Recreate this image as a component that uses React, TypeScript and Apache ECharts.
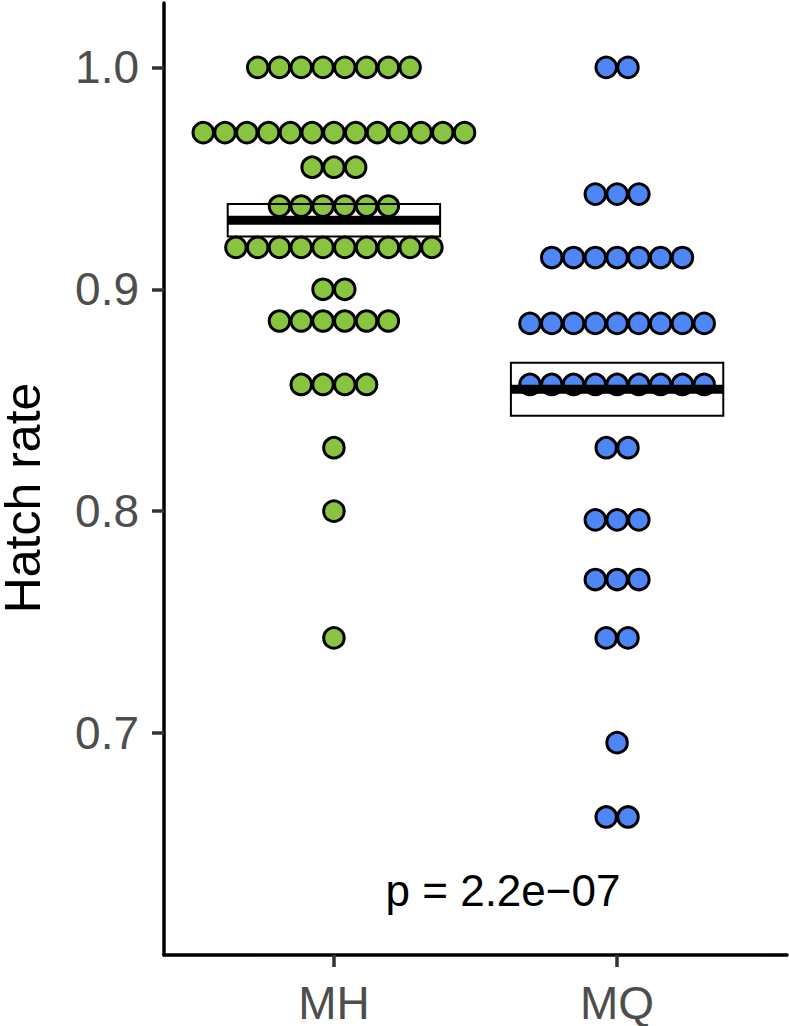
import React, { useEffect, useRef } from "react";
import * as echarts from "echarts";

// Groups (x categories)
const groups = ["MH", "MQ"];
const groupColors = ["#88C440", "#4E86F5"];

// Hatch-rate levels observed in each group and number of clutches at each level
const mhRates = [1.0, 0.9706, 0.955, 0.9375, 0.9189, 0.9, 0.8857, 0.8571, 0.8286, 0.8, 0.7429];
const mhCounts = [8, 13, 3, 6, 10, 2, 6, 4, 1, 1, 1];
const mqRates = [1.0, 0.9429, 0.9143, 0.8846, 0.8571, 0.8286, 0.7961, 0.7692, 0.7429, 0.6957, 0.6622];
const mqCounts = [2, 3, 7, 9, 9, 2, 3, 3, 2, 1, 2];

// Axis ticks and annotation
const yTicks = [0.7, 0.8, 0.9, 1.0];
const xTicks = [1, 2];
const pLabel = "p = 2.2e\u221207";
const yTitle = "Hatch rate";

const FONT = "'Liberation Sans', Arial, Helvetica, sans-serif";
const DOT_STEP = 0.0769; // horizontal stacking step in x units (one dot width)
const BOX_HALF = 0.375;

function expand(rates: number[], counts: number[]): number[] {
  const out: number[] = [];
  rates.forEach((r, i) => {
    for (let k = 0; k < counts[i]; k++) out.push(r);
  });
  return out;
}

function stats(vals: number[]) {
  const n = vals.length;
  const mean = vals.reduce((a, b) => a + b, 0) / n;
  const v = vals.reduce((a, b) => a + (b - mean) * (b - mean), 0) / (n - 1);
  const se = Math.sqrt(v) / Math.sqrt(n);
  return { mean, lo: mean - se, hi: mean + se };
}

function dots(gx: number, rates: number[], counts: number[]): number[][] {
  const out: number[][] = [];
  rates.forEach((r, i) => {
    const n = counts[i];
    for (let k = 0; k < n; k++) {
      out.push([gx + (k - (n - 1) / 2) * DOT_STEP, r]);
    }
  });
  return out;
}

export default function App() {
  const ref = useRef<HTMLDivElement>(null);

  useEffect(() => {
    if (!ref.current) return;
    const chart = echarts.init(ref.current, null, { renderer: "svg" });

    const groupData = [
      { rates: mhRates, counts: mhCounts },
      { rates: mqRates, counts: mqCounts },
    ];

    const scatterSeries = groupData.map((g, i) => ({
      type: "scatter",
      name: groups[i],
      data: dots(i + 1, g.rates, g.counts),
      symbol: "circle",
      symbolSize: 20.5,
      itemStyle: { color: groupColors[i], borderColor: "#000", borderWidth: 3, opacity: 1 },
      z: 2,
      silent: true,
    }));

    const crossData = groupData.map((g, i) => {
      const s = stats(expand(g.rates, g.counts));
      return [i + 1, s.mean, s.lo, s.hi];
    });

    const crossSeries = {
      type: "custom",
      data: crossData,
      z: 5,
      silent: true,
      renderItem: (params: any, api: any) => {
        const x = api.value(0);
        const m = api.value(1);
        const lo = api.value(2);
        const hi = api.value(3);
        const tl = api.coord([x - BOX_HALF, hi]);
        const br = api.coord([x + BOX_HALF, lo]);
        const ml = api.coord([x - BOX_HALF, m]);
        const mr = api.coord([x + BOX_HALF, m]);
        return {
          type: "group",
          children: [
            {
              type: "rect",
              shape: { x: tl[0], y: tl[1], width: br[0] - tl[0], height: br[1] - tl[1] },
              style: { fill: "none", stroke: "#000", lineWidth: 2 },
            },
            {
              type: "line",
              shape: { x1: ml[0], y1: ml[1], x2: mr[0], y2: mr[1] },
              style: { stroke: "#000", lineWidth: 9 },
            },
          ],
        };
      },
    };

    const option: any = {
      animation: false,
      backgroundColor: "#fff",
      grid: { left: 164, right: 2, top: 3, bottom: 68 },
      xAxis: {
        type: "value",
        min: 0.4,
        max: 2.6,
        axisLine: { show: true, onZero: false, lineStyle: { color: "#000", width: 3.5 } },
        axisTick: { show: true, customValues: xTicks, length: 12, lineStyle: { color: "#333", width: 3.5 } },
        axisLabel: {
          customValues: xTicks,
          formatter: (v: number) => groups[Math.round(v) - 1] ?? "",
          fontSize: 46,
          lineHeight: 40,
          color: "#4D4D4D",
          fontFamily: FONT,
          margin: 28,
        },
        splitLine: { show: false },
      },
      yAxis: {
        type: "value",
        min: 0.6,
        max: 1.029,
        axisLine: { show: true, onZero: false, lineStyle: { color: "#000", width: 3.5 } },
        axisTick: { show: true, customValues: yTicks, length: 12, lineStyle: { color: "#333", width: 3.5 } },
        axisLabel: {
          customValues: yTicks,
          formatter: (v: number) => v.toFixed(1),
          fontSize: 46,
          color: "#4D4D4D",
          fontFamily: FONT,
          margin: 25,
        },
        splitLine: { show: false },
      },
      graphic: [
        {
          type: "text",
          x: 23,
          y: 498,
          rotation: Math.PI / 2,
          style: {
            text: yTitle,
            font: `50px ${FONT}`,
            lineHeight: 42,
            fill: "#000",
            textAlign: "center",
            textVerticalAlign: "middle",
          },
        },
        {
          type: "text",
          x: 503,
          y: 890,
          style: {
            text: pLabel,
            font: `44px ${FONT}`,
            fill: "#000",
            textAlign: "center",
            textVerticalAlign: "middle",
          },
        },
      ],
      series: [...scatterSeries, crossSeries],
    };

    chart.setOption(option);
    return () => chart.dispose();
  }, []);

  return (
    <div
      ref={ref}
      style={{ position: "fixed", left: 0, top: 0, width: 789, height: 1026, background: "#fff" }}
    />
  );
}
